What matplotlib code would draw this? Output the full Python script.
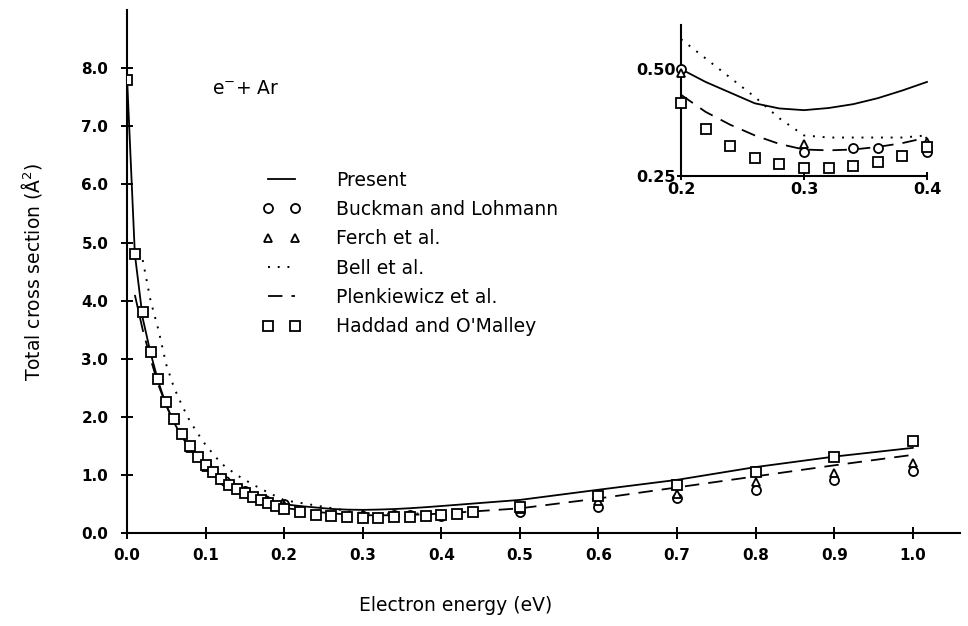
import numpy as np
import matplotlib
matplotlib.use("Agg")
import matplotlib.pyplot as plt
from matplotlib.lines import Line2D

# Present calculation (solid line)
present_e = [0.0, 0.01, 0.02, 0.03, 0.04, 0.05, 0.06, 0.07, 0.08, 0.09, 0.10,
             0.12, 0.14, 0.16, 0.18, 0.20, 0.22, 0.24, 0.26, 0.28, 0.30, 0.32,
             0.34, 0.36, 0.38, 0.40, 0.50, 0.60, 0.70, 0.80, 0.90, 1.00]
present_q = [7.85, 4.8, 3.7, 3.1, 2.6, 2.2, 1.9, 1.66, 1.47, 1.31, 1.18,
             0.97, 0.80, 0.67, 0.57, 0.50, 0.47, 0.445, 0.42, 0.408, 0.404, 0.409,
             0.418, 0.432, 0.45, 0.47, 0.575, 0.75, 0.92, 1.14, 1.32, 1.47]

# Buckman and Lohmann (circles)
buckman_e = [0.10, 0.125, 0.15, 0.175, 0.20, 0.30, 0.34, 0.36, 0.40,
             0.50, 0.60, 0.70, 0.80, 0.90, 1.00]
buckman_q = [1.17, 0.90, 0.72, 0.58, 0.50, 0.307, 0.316, 0.316, 0.307,
             0.37, 0.45, 0.61, 0.75, 0.91, 1.07]

# Ferch et al. (triangles)
ferch_e = [0.08, 0.10, 0.12, 0.15, 0.20, 0.30, 0.40,
           0.50, 0.60, 0.70, 0.80, 0.90, 1.00]
ferch_q = [1.47, 1.14, 0.95, 0.72, 0.49, 0.326, 0.33,
           0.42, 0.55, 0.68, 0.88, 1.04, 1.21]

# Bell et al. (dotted)
bell_e = [0.02, 0.03, 0.04, 0.05, 0.06, 0.07, 0.08, 0.09, 0.10, 0.12, 0.14,
          0.16, 0.18, 0.20, 0.22, 0.24, 0.26, 0.28, 0.30, 0.32, 0.34, 0.36,
          0.38, 0.40]
bell_q = [4.7, 4.0, 3.5, 2.9, 2.5, 2.2, 1.93, 1.72, 1.52, 1.2, 1.0,
          0.84, 0.70, 0.57, 0.525, 0.48, 0.435, 0.385, 0.345, 0.34, 0.34, 0.34,
          0.34, 0.345]

# Plenkiewicz et al. (dashed)
plenk_e = [0.01, 0.02, 0.03, 0.04, 0.05, 0.06, 0.08, 0.10, 0.12, 0.14, 0.16,
           0.18, 0.20, 0.22, 0.24, 0.26, 0.28, 0.30, 0.32, 0.34, 0.36, 0.38,
           0.40, 0.50, 0.60, 0.70, 0.80, 0.90, 1.00]
plenk_q = [4.1, 3.5, 3.0, 2.55, 2.2, 1.9, 1.45, 1.14, 0.93, 0.76, 0.63,
           0.52, 0.44, 0.40, 0.37, 0.345, 0.325, 0.312, 0.31, 0.312, 0.318, 0.327,
           0.34, 0.43, 0.60, 0.79, 0.98, 1.17, 1.35]

# Haddad and O'Malley (squares)
haddad_e = [0.0, 0.01, 0.02, 0.03, 0.04, 0.05, 0.06, 0.07, 0.08, 0.09, 0.10,
            0.11, 0.12, 0.13, 0.14, 0.15, 0.16, 0.17, 0.18, 0.19, 0.20, 0.22,
            0.24, 0.26, 0.28, 0.30, 0.32, 0.34, 0.36, 0.38, 0.40, 0.42, 0.44,
            0.50, 0.60, 0.70, 0.80, 0.90, 1.00]
haddad_q = [7.8, 4.8, 3.8, 3.12, 2.65, 2.26, 1.96, 1.70, 1.5, 1.32, 1.17,
            1.05, 0.94, 0.84, 0.76, 0.69, 0.62, 0.57, 0.52, 0.47, 0.42, 0.36,
            0.32, 0.293, 0.277, 0.268, 0.268, 0.274, 0.282, 0.297, 0.318, 0.34, 0.37,
            0.46, 0.65, 0.83, 1.05, 1.31, 1.58]

x_ticks = [0.0, 0.1, 0.2, 0.3, 0.4, 0.5, 0.6, 0.7, 0.8, 0.9, 1.0]
y_ticks = [0.0, 1.0, 2.0, 3.0, 4.0, 5.0, 6.0, 7.0, 8.0]
inset_x_ticks = [0.2, 0.3, 0.4]
inset_y_ticks = [0.25, 0.50]

plt.rcParams['font.family'] = ['DejaVu Sans']

line_kw = dict(color='black', lw=1.3)
dash = (0, (8, 5))
dots = (0, (1, 4))
sq_kw = dict(marker='s', ms=7, mfc='white', mec='black', mew=1.3, ls='none')
ci_kw = dict(marker='o', ms=6.5, mfc='white', mec='black', mew=1.3, ls='none')
tr_kw = dict(marker='^', ms=6, mfc='white', mec='black', mew=1.3, ls='none')


def draw_all(ax, lo=None, hi=None, clip=True):
    def sel(e, q):
        e = np.asarray(e)
        q = np.asarray(q)
        if lo is None:
            return e, q
        m = (e >= lo - 1e-9) & (e <= hi + 1e-9)
        return e[m], q[m]
    ax.plot(*sel(present_e, present_q), ls='-', clip_on=clip, **line_kw)
    ax.plot(*sel(bell_e, bell_q), ls=dots, clip_on=clip, color='black', lw=1.4)
    ax.plot(*sel(plenk_e, plenk_q), ls=dash, clip_on=clip, **line_kw)
    ax.plot(*sel(buckman_e, buckman_q), clip_on=clip, zorder=3, **ci_kw)
    ax.plot(*sel(ferch_e, ferch_q), clip_on=clip, zorder=3, **tr_kw)
    ax.plot(*sel(haddad_e, haddad_q), clip_on=clip, zorder=3, **sq_kw)


def style_axes(ax, size):
    for s in ['top', 'right']:
        ax.spines[s].set_visible(False)
    for s in ['left', 'bottom']:
        ax.spines[s].set_linewidth(1.5)
    ax.tick_params(direction='inout', length=9, width=1.4, labelsize=size)
    for lab in ax.get_xticklabels() + ax.get_yticklabels():
        lab.set_fontweight('bold')


fig = plt.figure(figsize=(9.68, 6.26), dpi=100)
ax = fig.add_axes([0.1312, 0.148, 0.8605, 0.836])
ax.set_facecolor('none')
draw_all(ax)
ax.set_xlim(0.0, 1.06)
ax.set_ylim(0.0, 9.0)
ax.set_xticks(x_ticks)
ax.set_xticklabels([f"{v:.1f}" for v in x_ticks])
ax.set_yticks(y_ticks)
ax.set_yticklabels([f"{v:.1f}" for v in y_ticks])
style_axes(ax, 11)
ax.tick_params(axis='x', pad=6)
ax.tick_params(axis='y', pad=9)

ax.set_xlabel("Electron energy (eV)", fontsize=13.5)
ax.xaxis.set_label_coords(0.395, -0.12)
ax.set_ylabel("Total cross section (Å$^2$)", fontsize=13.5)
ax.yaxis.set_label_coords(-0.1, 0.5)

ax.text(0.108, 7.65, "e$^{-}$+ Ar", fontsize=13.5, va='center', ha='left')

handles = [
    Line2D([], [], ls='-', **line_kw),
    Line2D([], [], **ci_kw),
    Line2D([], [], **tr_kw),
    Line2D([], [], ls=dots, color='black', lw=1.4),
    Line2D([], [], ls=dash, **line_kw),
    Line2D([], [], **sq_kw),
]
labels = ["Present", "Buckman and Lohmann", "Ferch et al.", "Bell et al.",
          "Plenkiewicz et al.", "Haddad and O'Malley"]
ax.legend(handles, labels, loc='upper left', bbox_to_anchor=(0.163, 0.693),
          frameon=False, numpoints=2, fontsize=13.5, handlelength=2.0,
          handletextpad=1.9, labelspacing=0.55, borderpad=0, borderaxespad=0)

# inset
axi = fig.add_axes([0.7035, 0.7188, 0.2541, 0.2412])
axi.set_facecolor('none')
draw_all(axi, 0.2, 0.4, clip=False)
axi.set_xlim(0.2, 0.4)
axi.set_ylim(0.25, 0.603)
axi.set_xticks(inset_x_ticks)
axi.set_xticklabels([f"{v:.1f}" for v in inset_x_ticks])
axi.set_yticks(inset_y_ticks)
axi.set_yticklabels([f"{v:.2f}" for v in inset_y_ticks])
style_axes(axi, 11.5)
axi.tick_params(length=6, pad=1)

fig.savefig("out.png", dpi=100)
